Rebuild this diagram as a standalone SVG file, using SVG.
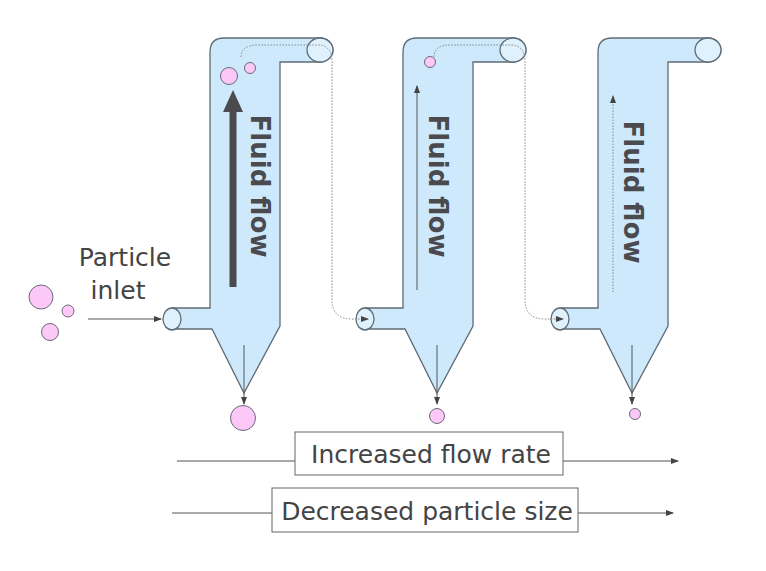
<svg xmlns="http://www.w3.org/2000/svg" width="766" height="571" viewBox="0 0 766 571">
<defs>
<style>
.body{fill:#cde9fb;stroke:#5f6b75;stroke-width:1.3}
.cap{fill:#def1fc;stroke:#5f6b75;stroke-width:1.3}
.p{fill:#fbc8f7;stroke:#6a6a7a;stroke-width:1}
.ff{font-family:"DejaVu Sans",Verdana,sans-serif;font-weight:bold;font-size:26px;fill:#4a4a4f}
.lbl{font-family:"DejaVu Sans",Verdana,sans-serif;font-size:25px;fill:#444}
.dot{fill:none;stroke:#888;stroke-width:1;stroke-dasharray:1.5 1.5}
.ln{stroke:#555;stroke-width:1;fill:none}
</style>
<marker id="ah" markerWidth="8" markerHeight="8" refX="7" refY="4" orient="auto" markerUnits="userSpaceOnUse"><path d="M0,1 L8,4 L0,7 Z" fill="#444"/></marker>
<marker id="ahb" markerWidth="24" markerHeight="24" refX="2" refY="12" orient="auto" markerUnits="userSpaceOnUse"><path d="M0,2 L22,12 L0,22 Z" fill="#4a4a4f"/></marker>
<g id="col">
<path class="body" d="M210,52 Q210,38 224,38 L320,38 A13,12 0 0 1 320,62 L280,62 L280,326 L244,393 L212,329 L172,329 L172,308 L210,308 Z"/>
<ellipse class="cap" cx="320" cy="50" rx="13" ry="12"/>
<ellipse class="cap" cx="172" cy="319" rx="9" ry="11"/>
<line class="ln" x1="244" y1="345" x2="244" y2="404" marker-end="url(#ah)"/>
</g>
</defs>
<g id="cyclone1">
<use href="#col"/>
<line x1="233" y1="287" x2="233" y2="110" stroke="#4a4a4f" stroke-width="7" marker-end="url(#ahb)"/>
<text class="ff" transform="translate(251,186) rotate(90)" text-anchor="middle">Fluid flow</text>
<circle class="p" cx="229" cy="76" r="8.5"/>
<circle class="p" cx="250" cy="68" r="5.5"/>
<circle class="p" cx="243" cy="418" r="12.5"/>
</g>
<g id="cyclone2">
<use href="#col" transform="translate(193,0)"/>
<line class="ln" x1="417" y1="290" x2="417" y2="86" stroke-width="1.5" marker-end="url(#ah)"/>
<text class="ff" transform="translate(429,186) rotate(90)" text-anchor="middle">Fluid flow</text>
<circle class="p" cx="430" cy="62" r="5.5"/>
<circle class="p" cx="437" cy="416" r="7.5"/>
</g>
<g id="cyclone3">
<use href="#col" transform="translate(388,0)"/>
<line class="dot" x1="613" y1="292" x2="613" y2="96" stroke="#555" marker-end="url(#ah)"/>
<text class="ff" transform="translate(624,192) rotate(90)" text-anchor="middle">Fluid flow</text>
<circle class="p" cx="635" cy="414" r="5.5"/>
</g>
<g id="inlet">
<circle class="p" cx="41" cy="297" r="12"/>
<circle class="p" cx="68" cy="311" r="6"/>
<circle class="p" cx="50" cy="332" r="8.5"/>
<text class="lbl" x="125" y="266" text-anchor="middle">Particle</text>
<text class="lbl" x="118" y="299" text-anchor="middle">inlet</text>
</g>
<g id="connectors">
<line class="ln" x1="88" y1="319" x2="161" y2="319" marker-end="url(#ah)"/>
<path class="dot" d="M241,57 Q241,45 258,45 L318,45 Q332,45 332,62 L332,300 Q332,319 352,319 L368,319" marker-end="url(#ah)"/>
<path class="dot" d="M434,57 Q434,45 450,45 L511,45 Q525,45 525,62 L525,300 Q525,319 545,319 L563,319" marker-end="url(#ah)"/>
<line class="ln" x1="177" y1="461" x2="678" y2="461" marker-end="url(#ah)"/>
<line class="ln" x1="172" y1="513" x2="673" y2="513" marker-end="url(#ah)"/>
</g>
<g id="box1">
<rect x="295" y="432" width="268" height="43" fill="#fff" stroke="#666"/>
<text class="lbl" x="431" y="463" text-anchor="middle">Increased flow rate</text>
</g>
<g id="box2">
<rect x="272" y="488" width="306" height="44" fill="#fff" stroke="#666"/>
<text class="lbl" x="427" y="520" text-anchor="middle">Decreased particle size</text>
</g>
</svg>
